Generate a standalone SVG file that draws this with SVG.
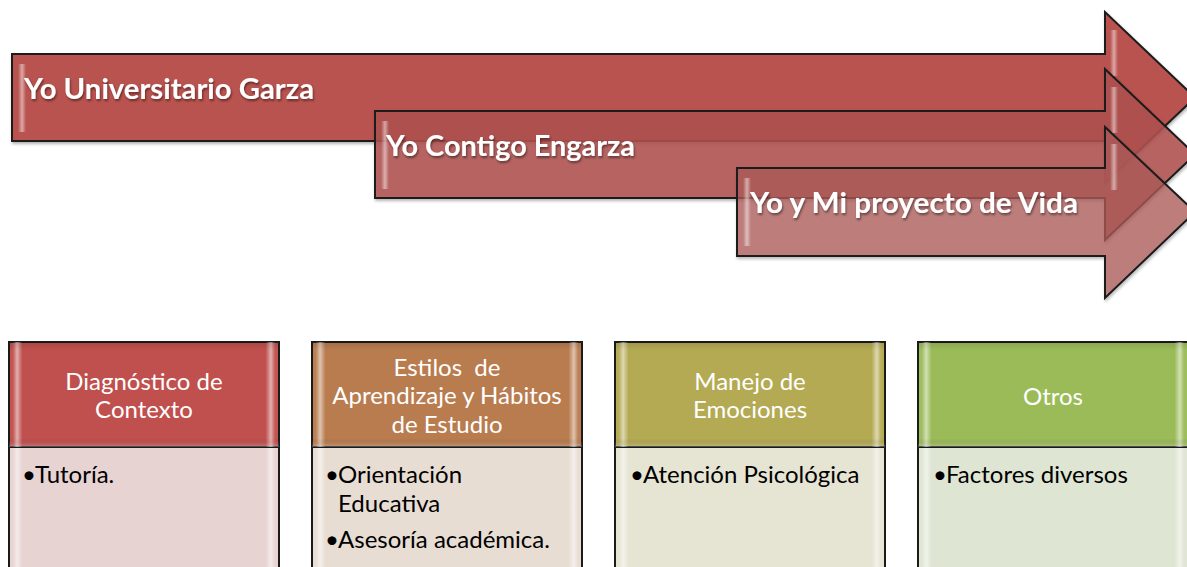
<svg xmlns="http://www.w3.org/2000/svg" width="1187" height="567" viewBox="0 0 1187 567">
<defs>
<style>
.arrow{stroke:#1a1a1a;stroke-width:2;stroke-linejoin:miter}
.atext{font-family:Lato,"Open Sans","Liberation Sans",sans-serif;font-weight:bold;font-size:28px;fill:#ffffff;filter:url(#tshadow)}
.hdr{stroke:#1a1a1a;stroke-width:2}
.body{stroke:#1a1a1a;stroke-width:2}
.htext{font-family:Lato,"Open Sans","Liberation Sans",sans-serif;font-size:24px;fill:#ffffff;text-anchor:middle}
.btext{font-family:Lato,"Open Sans","Liberation Sans",sans-serif;font-size:24px;fill:#000000}
</style>
<filter id="tshadow" x="-5%" y="-30%" width="110%" height="160%">
<feDropShadow dx="1" dy="2" stdDeviation="1.2" flood-color="#000" flood-opacity="0.45"/>
</filter>
<filter id="bshadow" x="-5%" y="-5%" width="110%" height="115%">
<feDropShadow dx="1" dy="2" stdDeviation="1.5" flood-color="#000" flood-opacity="0.3"/>
</filter>
<linearGradient id="bevelH" x1="0" y1="0" x2="1" y2="0">
<stop offset="0" stop-color="#fff" stop-opacity="0"/>
<stop offset="0.015" stop-color="#fff" stop-opacity="0.05"/>
<stop offset="0.03" stop-color="#fff" stop-opacity="0.55"/>
<stop offset="0.05" stop-color="#fff" stop-opacity="0"/>
<stop offset="0.95" stop-color="#fff" stop-opacity="0"/>
<stop offset="0.97" stop-color="#fff" stop-opacity="0.55"/>
<stop offset="0.985" stop-color="#fff" stop-opacity="0.05"/>
<stop offset="1" stop-color="#fff" stop-opacity="0"/>
</linearGradient>
<linearGradient id="bevelV" x1="0" y1="0" x2="0" y2="1">
<stop offset="0" stop-color="#000" stop-opacity="0.12"/>
<stop offset="0.08" stop-color="#000" stop-opacity="0"/>
<stop offset="0.92" stop-color="#000" stop-opacity="0"/>
<stop offset="1" stop-color="#fff" stop-opacity="0.25"/>
</linearGradient>
<linearGradient id="abevel" x1="0" y1="0" x2="1" y2="0">
<stop offset="0" stop-color="#fff" stop-opacity="0"/>
<stop offset="0.5" stop-color="#fff" stop-opacity="0.5"/>
<stop offset="1" stop-color="#fff" stop-opacity="0"/>
</linearGradient>
</defs>

<rect width="1187" height="567" fill="#ffffff"/>

<g id="arrow1">
<path class="arrow" filter="url(#bshadow)" fill="#B9524F" d="M12,54 H1105 V12 L1195,97.5 L1105,183 V141 H12 Z"/>
<rect x="18" y="64" width="8" height="68" fill="url(#abevel)"/>
<rect x="1110" y="30" width="8" height="46" fill="url(#abevel)"/>
<text class="atext" x="24" y="99" textLength="290" lengthAdjust="spacingAndGlyphs">Yo Universitario Garza</text>
</g>

<g id="arrow2">
<path class="arrow" filter="url(#bshadow)" fill="#B0514F" fill-opacity="0.85" d="M375,111 H1105 V69 L1195,154.5 L1105,240 V198 H375 Z"/>
<rect x="381" y="121" width="8" height="68" fill="url(#abevel)"/>
<rect x="1110" y="87" width="8" height="46" fill="url(#abevel)"/>
<text class="atext" x="386" y="156" textLength="249" lengthAdjust="spacingAndGlyphs">Yo Contigo Engarza</text>
</g>

<g id="arrow3">
<path class="arrow" filter="url(#bshadow)" fill="#B05D5B" fill-opacity="0.72" d="M737,168 H1105 V127 L1195,212 L1105,298 V256 H737 Z"/>
<rect x="743" y="178" width="8" height="68" fill="url(#abevel)"/>
<rect x="1110" y="144" width="8" height="46" fill="url(#abevel)"/>
<text class="atext" x="750" y="213" textLength="328" lengthAdjust="spacingAndGlyphs">Yo y Mi proyecto de Vida</text>
</g>

<g id="connectors"></g>

<g id="box1">
<rect class="body" x="9" y="447" width="270" height="130" fill="#E7D3D2"/>
<rect x="9" y="447" width="270" height="130" fill="url(#bevelH)"/>
<rect class="hdr" x="9" y="342" width="270" height="105" fill="#C0504D"/>
<rect x="9" y="342" width="270" height="105" fill="url(#bevelH)"/>
<rect x="9" y="342" width="270" height="105" fill="url(#bevelV)"/>
<text class="htext" x="144" y="390">Diagnóstico de</text>
<text class="htext" x="144" y="418">Contexto</text>
<text class="btext" x="22" y="483">•</text>
<text class="btext" x="35" y="483">Tutoría.</text>
</g>

<g id="box2">
<rect class="body" x="312" y="447" width="270" height="130" fill="#E8DDD3"/>
<rect x="312" y="447" width="270" height="130" fill="url(#bevelH)"/>
<rect class="hdr" x="312" y="342" width="270" height="105" fill="#B97C4F"/>
<rect x="312" y="342" width="270" height="105" fill="url(#bevelH)"/>
<rect x="312" y="342" width="270" height="105" fill="url(#bevelV)"/>
<text class="htext" x="447" y="376" xml:space="preserve">Estilos  de</text>
<text class="htext" x="447" y="404">Aprendizaje y Hábitos</text>
<text class="htext" x="447" y="433">de Estudio</text>
<text class="btext" x="325" y="483">•</text>
<text class="btext" x="338" y="483">Orientación</text>
<text class="btext" x="338" y="512">Educativa</text>
<text class="btext" x="325" y="548">•</text>
<text class="btext" x="338" y="548">Asesoría académica.</text>
</g>

<g id="box3">
<rect class="body" x="615" y="447" width="270" height="130" fill="#E6E4D3"/>
<rect x="615" y="447" width="270" height="130" fill="url(#bevelH)"/>
<rect class="hdr" x="615" y="342" width="270" height="105" fill="#B4AA53"/>
<rect x="615" y="342" width="270" height="105" fill="url(#bevelH)"/>
<rect x="615" y="342" width="270" height="105" fill="url(#bevelV)"/>
<text class="htext" x="750" y="390">Manejo de</text>
<text class="htext" x="750" y="418">Emociones</text>
<text class="btext" x="630" y="483">•</text>
<text class="btext" x="643" y="483">Atención Psicológica</text>
</g>

<g id="box4">
<rect class="body" x="918" y="447" width="270" height="130" fill="#DFE5D3"/>
<rect x="918" y="447" width="270" height="130" fill="url(#bevelH)"/>
<rect class="hdr" x="918" y="342" width="270" height="105" fill="#9BBB59"/>
<rect x="918" y="342" width="270" height="105" fill="url(#bevelH)"/>
<rect x="918" y="342" width="270" height="105" fill="url(#bevelV)"/>
<text class="htext" x="1053" y="405">Otros</text>
<text class="btext" x="933" y="483">•</text>
<text class="btext" x="946" y="483">Factores diversos</text>
</g>
</svg>
